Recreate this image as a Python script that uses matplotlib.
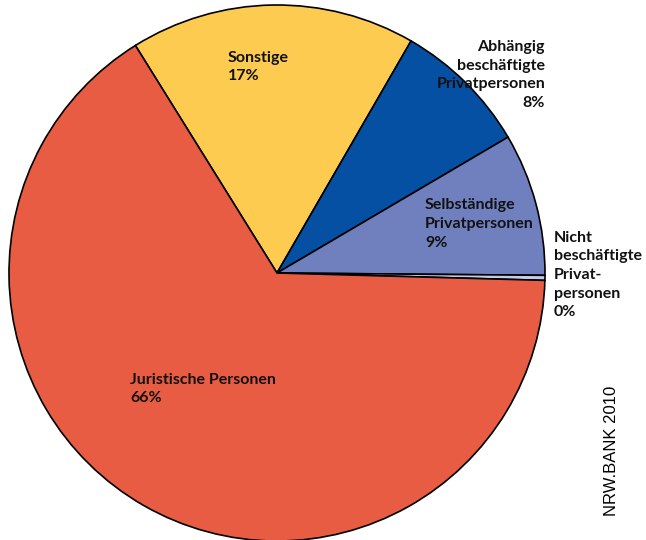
import matplotlib.pyplot as plt

# shares in percent, clockwise from the top-left boundary
categories = ["Sonstige", "Abhängig\nbeschäftigte\nPrivatpersonen",
              "Selbständige\nPrivatpersonen", "Nicht\nbeschäftigte\nPrivat-\npersonen",
              "Juristische Personen"]
shares = [17.2, 8.2, 8.6, 0.3, 65.7]
colors = ["#FDCB4F", "#0550A2", "#7080BF", "#C5CAE9", "#E75C43"]

W, H = 646, 540
fig = plt.figure(figsize=(W / 100, H / 100), dpi=100)

# pie centre at (276, 273) px, radius 268 px
cx, cy, r = 277, 273, 268
ax = fig.add_axes([(cx - r) / W, 1 - (cy + r) / H, 2 * r / W, 2 * r / H])
wedges, _ = ax.pie(shares, colors=colors, startangle=121.9, counterclock=False,
                   radius=1, wedgeprops=dict(edgecolor="black", linewidth=1.2))
for w in wedges:
    w.set_clip_on(False)
ax.set_xlim(-1, 1)
ax.set_ylim(-1, 1)
ax.set_aspect("equal")
ax.axis("off")


def px(x, y):
    return x / W, 1 - y / H


# label placement: (x, y of block centre, alignment)
label_pos = [(228, 67, "left"), (545, 75, "right"), (425, 224, "left"),
             (554, 275, "left"), (130, 389, "left")]

for cat, v, (x, y, ha) in zip(categories, shares, label_pos):
    fig.text(*px(x, y), f"{cat}\n{v:.0f}%", ha=ha, va="center", multialignment=ha,
             fontsize=11.5, fontweight="bold", family="Lato", linespacing=1.42,
             color="#111111")

fig.text(*px(612, 451), "NRW.BANK 2010", rotation=90, ha="center", va="center",
         fontsize=12, family="Liberation Sans", color="black")

fig.savefig("out.png", dpi=100)
